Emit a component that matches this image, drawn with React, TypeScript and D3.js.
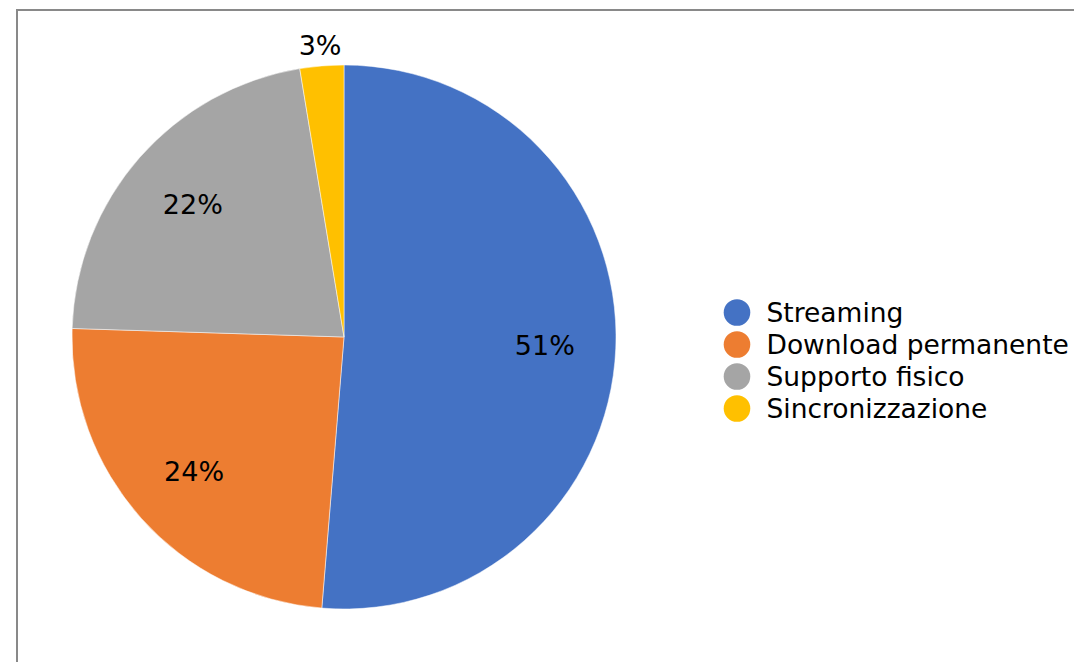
import React from "react";
import * as d3 from "d3";

const categories = ["Streaming", "Download permanente", "Supporto fisico", "Sincronizzazione"];
const values = [51.3, 24.2, 21.9, 2.6];
const labels = ["51%", "24%", "22%", "3%"];
const colors = ["#4472C4", "#ED7D31", "#A5A5A5", "#FFC000"];
const outside = [false, false, false, true];

export default function App() {
  const W = 1074, H = 662;
  const cx = 344, cy = 337, R = 272;
  const pie = d3.pie<number>().sort(null).value((d) => d);
  const arcs = pie(values);
  const arc = d3.arc<d3.PieArcDatum<number>>().innerRadius(0).outerRadius(R);
  const inLab = d3.arc<d3.PieArcDatum<number>>().innerRadius(201).outerRadius(201);
  const outLab = d3.arc<d3.PieArcDatum<number>>().innerRadius(293).outerRadius(293);
  const font = "Verdana, 'DejaVu Sans', sans-serif";
  const labFs = 27, legFs = 26.5;
  const legX = 737, legY0 = 312.5, legStep = 32;
  return (
    <svg width={W} height={H} style={{ position: "absolute", left: 0, top: 0, background: "#fff" }}>
      <rect x={17} y={10} width={W + 20} height={H + 20} fill="#fff" stroke="#898989" strokeWidth={2} />
      <g transform={`translate(${cx},${cy})`}>
        {arcs.map((a, i) => (
          <path key={i} d={arc(a) || ""} fill={colors[i]} stroke="#fff" strokeWidth={0.5} />
        ))}
        {arcs.map((a, i) => {
          const [x, y] = (outside[i] ? outLab : inLab).centroid(a);
          return (
            <text key={i} x={x} y={y + labFs * 0.365} textAnchor="middle" fontFamily={font} fontSize={labFs} fill="#000">
              {labels[i]}
            </text>
          );
        })}
      </g>
      {categories.map((c, i) => (
        <g key={c} transform={`translate(${legX},${legY0 + i * legStep})`}>
          <circle r={13.3} fill={colors[i]} />
          <text x={29.5} y={legFs * 0.365} fontFamily={font} fontSize={legFs} fill="#000">
            {c}
          </text>
        </g>
      ))}
    </svg>
  );
}
